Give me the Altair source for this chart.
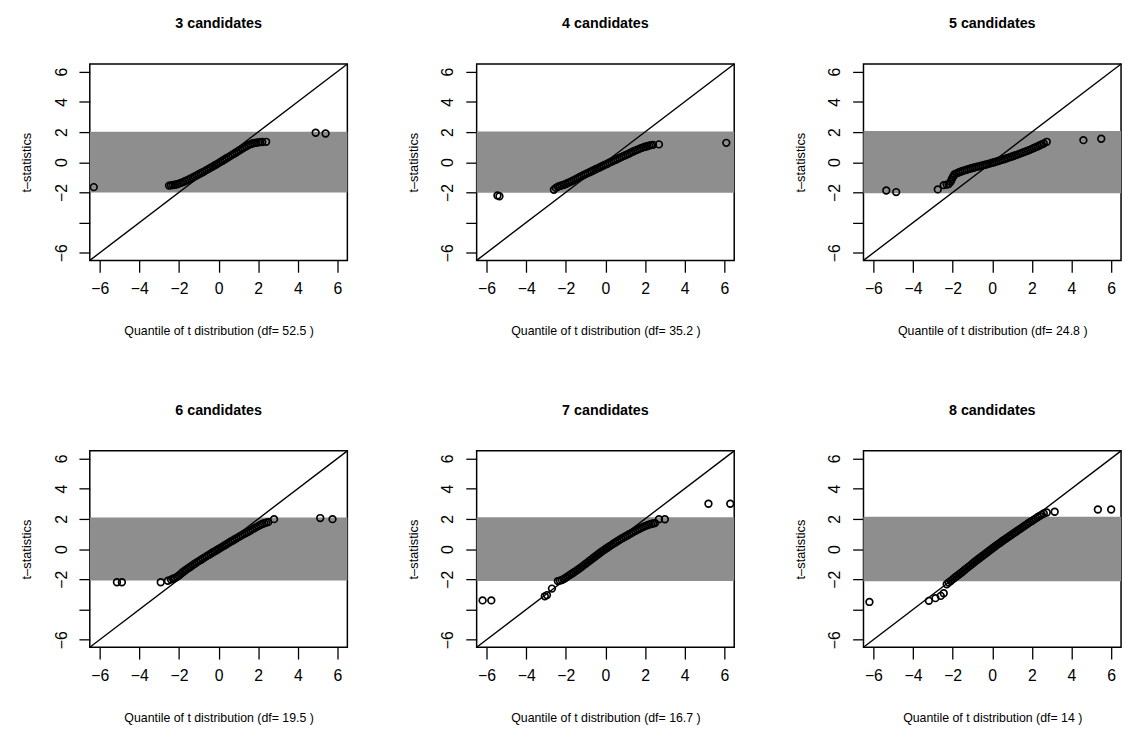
import altair as alt
import pandas as pd

# Panel titles and degrees of freedom of the reference t distribution
panel_titles = ["3 candidates", "4 candidates", "5 candidates",
                "6 candidates", "7 candidates", "8 candidates"]
df_labels = ["52.5", "35.2", "24.8", "19.5", "16.7", "14"]
# Two-sided 5% critical values of t for each df (shaded band)
crit = [2.01, 2.03, 2.06, 2.09, 2.11, 2.14]

# Theoretical quantiles (q*) and observed t-statistics (t*) for each panel
q3 = [-6.3, -2.5, -2.4, -2.3, -2.2, -2.1, -2.0, -1.9, -1.8, -1.7, -1.6, -1.5, -1.4, -1.3, -1.2, -1.1,
      -1.0, -0.9, -0.8, -0.7, -0.6, -0.5, -0.4, -0.3, -0.2, -0.1, 0.0, 0.1, 0.2, 0.3, 0.4, 0.5, 0.6,
      0.7, 0.8, 0.9, 1.0, 1.1, 1.2, 1.3, 1.4, 1.5, 1.6, 1.7, 1.8, 1.9, 2.0, 2.1, 2.2, 2.4, 4.9, 5.4]
t3 = [-1.65, -1.55, -1.53, -1.51, -1.49, -1.46, -1.42, -1.37, -1.32, -1.26, -1.2, -1.14, -1.08, -1.01,
      -0.94, -0.87, -0.8, -0.73, -0.66, -0.59, -0.51, -0.44, -0.36, -0.29, -0.21, -0.14, -0.06, 0.02,
      0.1, 0.18, 0.26, 0.34, 0.42, 0.5, 0.58, 0.66, 0.74, 0.82, 0.9, 0.98, 1.06, 1.13, 1.19, 1.24,
      1.27, 1.29, 1.31, 1.33, 1.34, 1.35, 1.95, 1.9]

q4 = [-5.45, -5.35, -2.6, -2.5, -2.4, -2.3, -2.2, -2.1, -2.0, -1.9, -1.8, -1.7, -1.6, -1.5, -1.4, -1.3,
      -1.2, -1.1, -1.0, -0.9, -0.8, -0.7, -0.6, -0.5, -0.4, -0.3, -0.2, -0.1, 0.0, 0.1, 0.2, 0.3, 0.4,
      0.5, 0.6, 0.7, 0.8, 0.9, 1.0, 1.1, 1.2, 1.3, 1.4, 1.5, 1.6, 1.7, 1.8, 1.9, 2.0, 2.1, 2.2, 2.3,
      2.4, 2.7, 6.1]
t4 = [-2.2, -2.25, -1.82, -1.7, -1.62, -1.57, -1.53, -1.49, -1.44, -1.38, -1.32, -1.26, -1.19, -1.12,
      -1.05, -0.98, -0.92, -0.85, -0.79, -0.72, -0.66, -0.6, -0.53, -0.47, -0.41, -0.35, -0.28, -0.22,
      -0.16, -0.1, -0.03, 0.03, 0.09, 0.15, 0.21, 0.28, 0.34, 0.4, 0.46, 0.52, 0.58, 0.65, 0.71, 0.77,
      0.82, 0.88, 0.93, 0.98, 1.02, 1.06, 1.1, 1.13, 1.15, 1.18, 1.28]

q5 = [-5.35, -4.85, -2.75, -2.45, -2.3, -2.2, -2.1, -2.05, -2.0, -1.95, -1.9, -1.8, -1.7, -1.6, -1.5,
      -1.4, -1.3, -1.2, -1.1, -1.0, -0.9, -0.8, -0.7, -0.6, -0.5, -0.4, -0.3, -0.2, -0.1, 0.0, 0.1, 0.2,
      0.3, 0.4, 0.5, 0.6, 0.7, 0.8, 0.9, 1.0, 1.1, 1.2, 1.3, 1.4, 1.5, 1.6, 1.7, 1.8, 1.9, 2.0, 2.1,
      2.2, 2.3, 2.4, 2.5, 2.6, 2.75, 4.6, 5.5]
t5 = [-1.87, -1.98, -1.8, -1.52, -1.48, -1.45, -1.3, -1.15, -1.02, -0.9, -0.8, -0.74, -0.68, -0.63,
      -0.58, -0.54, -0.5, -0.46, -0.42, -0.38, -0.35, -0.31, -0.28, -0.25, -0.22, -0.18, -0.15, -0.11,
      -0.08, -0.04, 0.0, 0.04, 0.08, 0.12, 0.16, 0.2, 0.25, 0.29, 0.34, 0.38, 0.43, 0.47, 0.52, 0.57,
      0.62, 0.67, 0.72, 0.77, 0.82, 0.88, 0.94, 1.0, 1.06, 1.12, 1.18, 1.24, 1.35, 1.46, 1.55]

q6 = [-5.13, -4.88, -2.92, -2.56, -2.4, -2.3, -2.2, -2.1, -2.0, -1.9, -1.8, -1.7, -1.6, -1.5, -1.4,
      -1.3, -1.2, -1.1, -1.0, -0.9, -0.8, -0.7, -0.6, -0.5, -0.4, -0.3, -0.2, -0.1, 0.0, 0.1, 0.2, 0.3,
      0.4, 0.5, 0.6, 0.7, 0.8, 0.9, 1.0, 1.1, 1.2, 1.3, 1.4, 1.5, 1.6, 1.7, 1.8, 1.9, 2.0, 2.1, 2.2,
      2.3, 2.4, 2.5, 2.8, 5.13, 5.75]
t6 = [-2.2, -2.2, -2.2, -2.1, -2.02, -1.97, -1.92, -1.84, -1.75, -1.63, -1.52, -1.42, -1.33, -1.24,
      -1.15, -1.06, -0.97, -0.88, -0.8, -0.72, -0.63, -0.55, -0.47, -0.39, -0.31, -0.23, -0.15, -0.08,
      0.0, 0.08, 0.16, 0.24, 0.32, 0.4, 0.48, 0.55, 0.63, 0.71, 0.79, 0.86, 0.94, 1.01, 1.08, 1.15,
      1.22, 1.3, 1.38, 1.45, 1.52, 1.59, 1.66, 1.71, 1.75, 1.78, 1.98, 2.05, 1.98]

q7 = [-6.2, -5.76, -3.06, -2.95, -2.7, -2.4, -2.3, -2.2, -2.1, -2.0, -1.9, -1.8, -1.7, -1.6, -1.5,
      -1.4, -1.3, -1.2, -1.1, -1.0, -0.9, -0.8, -0.7, -0.6, -0.5, -0.4, -0.3, -0.2, -0.1, 0.0, 0.1, 0.2,
      0.3, 0.4, 0.5, 0.6, 0.7, 0.8, 0.9, 1.0, 1.1, 1.2, 1.3, 1.4, 1.5, 1.6, 1.7, 1.8, 1.9, 2.0, 2.1,
      2.2, 2.3, 2.4, 2.5, 2.7, 3.0, 5.2, 6.3]
t7 = [-3.4, -3.4, -3.13, -3.05, -2.62, -2.12, -2.09, -2.05, -1.98, -1.9, -1.81, -1.72, -1.63, -1.55,
      -1.46, -1.37, -1.28, -1.18, -1.08, -0.98, -0.88, -0.78, -0.68, -0.58, -0.48, -0.38, -0.28, -0.18,
      -0.09, 0.0, 0.09, 0.18, 0.26, 0.35, 0.43, 0.52, 0.6, 0.68, 0.75, 0.83, 0.9, 0.98, 1.05, 1.12,
      1.2, 1.27, 1.33, 1.4, 1.46, 1.52, 1.57, 1.62, 1.66, 1.69, 1.72, 1.97, 1.97, 3.0, 3.0]

q8 = [-6.2, -3.2, -2.87, -2.6, -2.45, -2.3, -2.2, -2.1, -2.0, -1.9, -1.8, -1.7, -1.6, -1.5, -1.4,
      -1.3, -1.2, -1.1, -1.0, -0.9, -0.8, -0.7, -0.6, -0.5, -0.4, -0.3, -0.2, -0.1, 0.0, 0.1, 0.2, 0.3,
      0.4, 0.5, 0.6, 0.7, 0.8, 0.9, 1.0, 1.1, 1.2, 1.3, 1.4, 1.5, 1.6, 1.7, 1.8, 1.9, 2.0, 2.1, 2.2,
      2.3, 2.4, 2.5, 2.6, 2.75, 3.15, 5.33, 6.0]
t8 = [-3.5, -3.43, -3.25, -3.1, -2.93, -2.33, -2.22, -2.12, -2.01, -1.9, -1.8, -1.7, -1.6, -1.5,
      -1.39, -1.28, -1.18, -1.08, -0.97, -0.86, -0.76, -0.66, -0.56, -0.46, -0.36, -0.26, -0.16, -0.06,
      0.04, 0.14, 0.23, 0.33, 0.42, 0.52, 0.61, 0.7, 0.79, 0.88, 0.97, 1.06, 1.15, 1.24, 1.33, 1.42,
      1.51, 1.6, 1.69, 1.78, 1.86, 1.95, 2.03, 2.12, 2.2, 2.28, 2.35, 2.42, 2.47, 2.62, 2.62]

quantiles = [q3, q4, q5, q6, q7, q8]
tstats = [t3, t4, t5, t6, t7, t8]

LIM = [-6.5, 6.5]
W, H = 261, 199
FONT = "Liberation Sans"
TICKS = [-6, -4, -2, 0, 2, 4, 6]


def panel(i):
    sc = alt.Scale(domain=LIM, nice=False, zero=False)
    x_axis = alt.Axis(values=TICKS, title=f"Quantile of t distribution (df= {df_labels[i]} )",
                      grid=False, domain=False, tickSize=12, tickColor="black", tickWidth=1.3,
                      labelPadding=9, labelFontSize=16, labelColor="black",
                      titleFontSize=12.5, titleFontWeight="normal", titleColor="black",
                      titlePadding=28)
    y_axis = alt.Axis(values=TICKS, title="t\u2013statistics", grid=False, domain=False,
                      tickSize=11, tickColor="black", tickWidth=1.3,
                      labelAngle=-90, labelAlign="center", labelBaseline="bottom",
                      labelPadding=10, labelFontSize=16, labelColor="black",
                      labelExpr="datum.value == -4 ? '' : datum.label",
                      titleFontSize=13, titleFontWeight="normal", titleColor="black",
                      titlePadding=20)

    band = alt.Chart(pd.DataFrame({"lo": [-crit[i]], "hi": [crit[i]]})).mark_rect(
        color="#8e8e8e").encode(
        y=alt.Y("lo:Q", scale=sc, axis=y_axis), y2="hi:Q",
        x=alt.value(0), x2=alt.value(W))

    diag = alt.Chart(pd.DataFrame({"a": LIM})).mark_line(
        color="black", strokeWidth=1.4).encode(
        x=alt.X("a:Q", scale=sc, axis=x_axis), y=alt.Y("a:Q", scale=sc, axis=y_axis))

    dots = alt.Chart(pd.DataFrame({"q": quantiles[i], "t": tstats[i]})).mark_point(
        shape="circle", filled=False, color="black", size=46, strokeWidth=1.7, opacity=1,
        clip=True).encode(
        x=alt.X("q:Q", scale=sc, axis=x_axis),
        y=alt.Y("t:Q", scale=sc, axis=y_axis))

    return alt.layer(band, diag, dots).properties(
        width=W, height=H,
        title=alt.TitleParams(panel_titles[i], anchor="middle", frame="group", offset=30))


top = alt.hconcat(*[panel(i) for i in range(3)], spacing=56)
bottom = alt.hconcat(*[panel(i) for i in range(3, 6)], spacing=56)

chart = alt.vconcat(top, bottom, spacing=64).properties(
    padding={"left": 20, "top": 10, "right": 0, "bottom": 0},
    background="white",
).configure_view(
    stroke="black", strokeWidth=1.5
).configure_title(
    font=FONT, fontSize=14.5, fontWeight="bold", color="black"
).configure_axis(
    labelFont=FONT, titleFont=FONT
)

chart.save("out.html", embed_options={"renderer": "svg", "actions": False})
